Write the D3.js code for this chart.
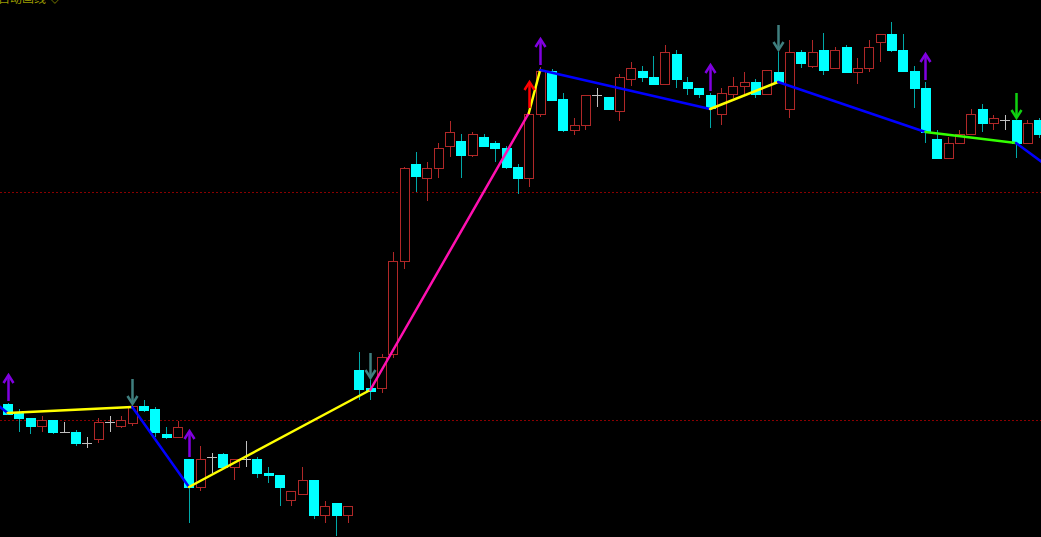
<!DOCTYPE html>
<html>
<head>
<meta charset="utf-8">
<script src="https://cdn.jsdelivr.net/npm/d3@7"></script>
<style>
    html, body { margin: 0; padding: 0; background: #000; overflow: hidden; }
    #chart { width: 1041px; height: 537px; }
    .title { font-family: "Noto Sans CJK SC", sans-serif; font-size: 12px; fill: #9a9a00; }
</style>
</head>
<body>
<div id="chart"></div>
<script>
// candle data (one bar per session)
let opens  = [5.96,5.87,5.82,5.74,5.80,5.68,5.68,5.57,5.61,5.78,5.74,5.77,5.94,5.91,5.66,5.63,
              5.41,5.13,5.43,5.46,5.33,5.41,5.41,5.27,5.25,5.00,5.06,5.20,4.85,4.97,4.85,
              6.30,6.12,6.12,6.46,7.39,8.36,8.22,8.32,8.54,8.59,8.45,8.63,8.57,8.52,8.33,8.22,
              8.86,9.29,9.01,8.70,8.75,9.05,9.03,8.89,9.21,9.29,9.23,9.16,9.46,9.18,9.12,9.05,
              8.86,9.06,9.14,9.18,9.06,9.28,8.91,9.48,9.34,9.50,9.32,9.53,9.28,9.32,9.58,9.66,
              9.50,9.29,9.12,8.61,8.42,8.57,8.66,8.91,8.77,8.80,8.80,8.57,8.80];
let highs  = [5.97,5.91,5.82,5.84,5.80,5.78,5.70,5.63,5.82,5.84,5.84,5.94,6.00,5.93,5.73,5.79,
              5.41,5.54,5.47,5.47,5.41,5.59,5.43,5.33,5.25,5.09,5.33,5.20,4.99,4.97,4.94,
              6.48,6.20,6.46,7.48,8.33,8.48,8.38,8.57,8.79,8.66,8.68,8.66,8.59,8.54,8.36,8.86,
              9.33,9.31,9.07,8.82,9.05,9.12,9.03,9.26,9.38,9.34,9.44,9.55,9.50,9.23,9.12,9.07,
              9.12,9.23,9.28,9.21,9.30,9.48,9.60,9.50,9.60,9.67,9.53,9.55,9.42,9.60,9.66,9.78,
              9.66,9.34,9.18,8.70,8.63,8.70,8.91,8.96,8.85,8.85,8.80,8.80,8.82];
let lows   = [5.85,5.68,5.66,5.68,5.66,5.68,5.54,5.52,5.57,5.68,5.72,5.74,5.88,5.63,5.61,5.63,
              4.77,5.09,5.27,5.33,5.20,5.33,5.22,5.17,4.94,4.94,5.06,4.81,4.77,4.64,4.77,
              6.00,6.00,6.07,6.42,7.31,8.08,7.99,8.22,8.43,8.22,8.43,8.54,8.38,8.31,8.06,8.13,
              8.83,9.00,8.68,8.65,8.70,8.93,8.91,8.79,9.14,9.18,9.16,9.16,9.12,9.05,9.02,8.72,
              8.75,9.02,9.06,9.02,9.06,9.18,8.82,9.32,9.32,9.25,9.32,9.28,9.16,9.28,9.38,9.48,
              9.29,8.92,8.57,8.42,8.42,8.57,8.66,8.68,8.70,8.70,8.42,8.57,8.62];
let closes = [5.86,5.82,5.74,5.80,5.68,5.68,5.57,5.57,5.78,5.78,5.80,5.94,5.90,5.68,5.63,5.73,
              5.13,5.41,5.43,5.33,5.41,5.41,5.27,5.25,5.13,5.09,5.20,4.85,4.94,4.85,4.94,
              6.11,6.09,6.43,7.39,8.32,8.24,8.32,8.52,8.68,8.45,8.66,8.54,8.52,8.33,8.22,8.86,
              9.29,9.00,8.70,8.75,9.05,9.05,8.91,9.23,9.32,9.23,9.16,9.48,9.21,9.12,9.06,8.92,
              9.07,9.14,9.18,9.06,9.30,9.18,9.48,9.37,9.48,9.30,9.50,9.28,9.32,9.53,9.66,9.50,
              9.29,9.12,8.68,8.42,8.57,8.66,8.86,8.77,8.82,8.80,8.57,8.77,8.66];

// zigzag pivots (bar index, price) and the colour of each leg
let pivotIdx   = [-1, 0, 11, 16, 32, 46, 47, 62, 68, 81, 89, 92];
let pivotPrice = [5.96, 5.87, 5.93, 5.13, 6.10, 8.87, 9.30, 8.91, 9.18, 8.68, 8.57, 8.32];
let legColors  = ["#0000ff", "#ffff00", "#0000ff", "#ffff00", "#ff10b0", "#ffff00",
                  "#0000ff", "#ffff00", "#0000ff", "#33ff00", "#0000ff"];

// signal arrows
let arrowIdx   = [0, 11, 16, 32, 46, 47, 62, 68, 81, 89];
let arrowDir   = ["up", "down", "up", "down", "up", "up", "up", "down", "up", "down"];
let arrowColor = ["#8000e0", "#3f7f7f", "#8000e0", "#3f7f7f", "#ff0000", "#8000e0",
                  "#8000e0", "#3f7f7f", "#8000e0", "#10d010"];

// dotted reference levels
let refLevels = [8.08, 5.80];

let titleText = "自动画线 ◇";

class CandleVis {

    constructor(parentElement) {
        this.parentElement = parentElement;
        this.initVis();
    }

    initVis() {
        let vis = this;

        vis.width = 1041;
        vis.height = 537;

        vis.svg = d3.select("#" + vis.parentElement).append("svg")
            .attr("width", vis.width)
            .attr("height", vis.height)
            .style("display", "block")
            .style("background", "#000");

        vis.svg.append("defs").append("clipPath")
            .attr("id", "plotClip")
            .append("rect")
            .attr("width", vis.width)
            .attr("height", vis.height);

        vis.plot = vis.svg.append("g").attr("clip-path", "url(#plotClip)");

        vis.bars = d3.range(opens.length).map(i => ({
            i: i, o: opens[i], h: highs[i], l: lows[i], c: closes[i]
        }));

        vis.updateVis();
    }

    updateVis() {
        let vis = this;

        // one slot per bar, 11.33px apart
        vis.xScale = d3.scaleBand()
            .domain(d3.range(opens.length))
            .range([2, 2 + opens.length * 11.33])
            .padding(0);

        vis.cx = i => 2 + 11.33 * (i + 0.5);

        vis.yScale = d3.scaleLinear()
            .domain([4.63, 10.0])
            .range([vis.height, 0]);

        let bodyW = 9;

        // reference levels
        vis.plot.selectAll(".ref").data(refLevels).enter().append("line")
            .attr("class", "ref")
            .attr("x1", 0).attr("x2", vis.width)
            .attr("y1", d => Math.round(vis.yScale(d)) + 0.5)
            .attr("y2", d => Math.round(vis.yScale(d)) + 0.5)
            .attr("stroke", "#8a0000")
            .attr("stroke-width", 1)
            .attr("stroke-dasharray", "2,2");

        let kind = d => d.c > d.o ? "up" : (d.c < d.o ? "down" : "flat");
        let color = {up: "#b02828", down: "#00ffff", flat: "#c0c0c0"};
        let wickColor = {up: "#b02828", down: "#00a8a8", flat: "#c0c0c0"};

        let g = vis.plot.selectAll(".candle").data(vis.bars).enter().append("g")
            .attr("class", "candle");

        // wicks
        g.append("line")
            .attr("x1", d => Math.round(vis.cx(d.i)) + 0.5)
            .attr("x2", d => Math.round(vis.cx(d.i)) + 0.5)
            .attr("y1", d => vis.yScale(d.h))
            .attr("y2", d => vis.yScale(d.l))
            .attr("stroke", d => wickColor[kind(d)])
            .attr("stroke-width", 1);

        // bodies
        g.filter(d => kind(d) !== "flat").append("rect")
            .attr("x", d => Math.round(vis.cx(d.i) - bodyW / 2) + 0.5)
            .attr("y", d => Math.round(vis.yScale(Math.max(d.o, d.c))) + 0.5)
            .attr("width", bodyW)
            .attr("height", d => Math.max(1, Math.round(Math.abs(vis.yScale(d.o) - vis.yScale(d.c)))))
            .attr("fill", d => kind(d) === "up" ? "#000" : "#00ffff")
            .attr("stroke", d => color[kind(d)])
            .attr("stroke-width", 1);

        // doji crosses
        g.filter(d => kind(d) === "flat").append("line")
            .attr("x1", d => Math.round(vis.cx(d.i) - bodyW / 2))
            .attr("x2", d => Math.round(vis.cx(d.i) + bodyW / 2) + 1)
            .attr("y1", d => Math.round(vis.yScale(d.o)) + 0.5)
            .attr("y2", d => Math.round(vis.yScale(d.o)) + 0.5)
            .attr("stroke", "#c0c0c0")
            .attr("stroke-width", 1);

        // zigzag legs
        let legs = d3.range(pivotIdx.length - 1).map(k => ({
            x1: vis.cx(pivotIdx[k]), y1: vis.yScale(pivotPrice[k]),
            x2: vis.cx(pivotIdx[k + 1]), y2: vis.yScale(pivotPrice[k + 1]),
            color: legColors[k]
        }));

        vis.plot.selectAll(".leg").data(legs).enter().append("line")
            .attr("class", "leg")
            .attr("x1", d => d.x1).attr("y1", d => d.y1)
            .attr("x2", d => d.x2).attr("y2", d => d.y2)
            .attr("stroke", d => d.color)
            .attr("stroke-width", 2.5)
            .attr("stroke-linecap", "round");

        // arrows above the bar high
        let arrows = arrowIdx.map((i, k) => ({
            x: Math.round(vis.cx(i)) + 0.5,
            base: vis.yScale(highs[i]) - (arrowColor[k] === "#ff0000" ? 6 : 2),
            dir: arrowDir[k],
            color: arrowColor[k]
        }));

        let ag = vis.plot.selectAll(".arrow").data(arrows).enter().append("g")
            .attr("class", "arrow");

        ag.append("line")
            .attr("x1", d => d.x).attr("x2", d => d.x)
            .attr("y1", d => d.base - 25)
            .attr("y2", d => d.base)
            .attr("stroke", d => d.color)
            .attr("stroke-width", 2.5);

        ag.append("path")
            .attr("d", d => {
                if (d.dir === "up") {
                    let t = d.base - 26;
                    return `M${d.x - 5},${t + 8} L${d.x},${t} L${d.x + 5},${t + 8}`;
                }
                let b = d.base;
                return `M${d.x - 5},${b - 8} L${d.x},${b} L${d.x + 5},${b - 8}`;
            })
            .attr("fill", "none")
            .attr("stroke", d => d.color)
            .attr("stroke-width", 2.5);

        // title, clipped at the top edge
        vis.svg.append("text")
            .attr("class", "title")
            .attr("x", -2)
            .attr("y", 3)
            .text(titleText);
    }
}

new CandleVis("chart");
</script>
</body>
</html>
